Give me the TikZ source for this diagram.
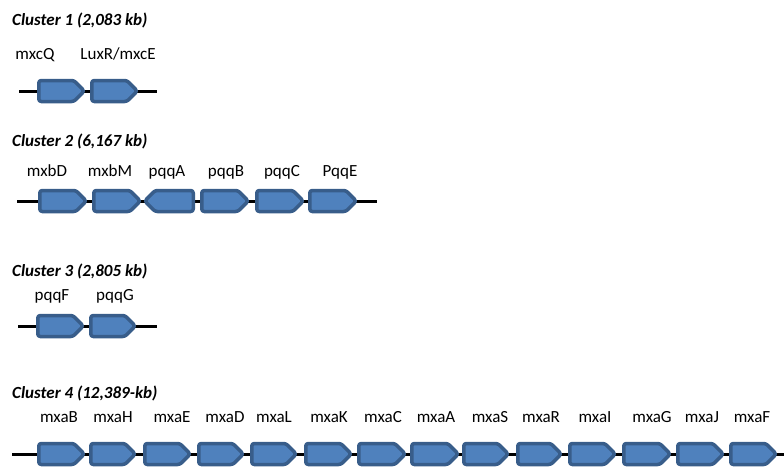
\documentclass[tikz,border=0pt]{standalone}
\usepackage{fontspec}
\setmainfont{Carlito}

\definecolor{genefill}{HTML}{4F81BD}
\definecolor{geneline}{HTML}{385D8A}

\tikzset{
  gene/.style={fill=genefill,draw=geneline,line width=3.5pt,rounded corners=2.5pt,line join=round},
  backbone/.style={line width=3pt},
  genename/.style={font=\fontsize{17}{20}\selectfont,inner sep=0pt,anchor=base},
  cluster/.style={font=\fontsize{17}{20}\selectfont\bfseries\itshape,inner sep=0pt,anchor=base west}
}

% gene arrows: start, end, height of the backbone
\newcommand{\generight}[3]{%
  \draw[gene] (#1+1.75,#3-10.5) -- (#2-12,#3-10.5) -- (#2-1.75,#3) -- (#2-12,#3+10.5) -- (#1+1.75,#3+10.5) -- cycle;}
\newcommand{\geneleft}[3]{%
  \draw[gene] (#2-1.75,#3-10.5) -- (#1+12,#3-10.5) -- (#1+1.75,#3) -- (#1+12,#3+10.5) -- (#2-1.75,#3+10.5) -- cycle;}

\begin{document}
\begin{tikzpicture}[x=1pt,y=-1pt]
\clip (0,0) rectangle (784,466);

% cluster 1
\node[cluster] (c1) at (12,25) {Cluster 1 (2,083 kb)};
\node[genename] (mxcQ) at (35,59) {mxcQ};
\node[genename] (luxR) at (118,59) {LuxR/mxcE};
\draw[backbone] (19,91) -- (157,91);
\generight{37}{86}{91}
\generight{90}{139}{91}

% cluster 2
\node[cluster] (c2) at (12,146) {Cluster 2 (6,167 kb)};
\foreach \c/\n in {47/mxbD,110/mxbM,167/pqqA,226/pqqB,282/pqqC,340/PqqE}
  \node[genename] (\n) at (\c,176) {\n};
\draw[backbone] (17,201) -- (377,201);
\generight{38}{88}{201}
\generight{92}{142}{201}
\geneleft{143}{195}{201}
\generight{200}{250}{201}
\generight{255}{305}{201}
\generight{308}{358}{201}

% cluster 3
\node[cluster] (c3) at (12,276) {Cluster 3 (2,805 kb)};
\node[genename] (pqqF) at (52,300) {pqqF};
\node[genename] (pqqG) at (115,300) {pqqG};
\draw[backbone] (18,326) -- (157,326);
\generight{36}{85}{326}
\generight{89}{137}{326}

% cluster 4
\node[cluster] (c4) at (12,398) {Cluster 4 (12,389-kb)};
\foreach \c/\n in {59/mxaB,113/mxaH,172/mxaE,225/mxaD,274/mxaL,329/mxaK,383/mxaC,
                   436/mxaA,490/mxaS,541/mxaR,595/mxaI,652/mxaG,702/mxaJ,752/mxaF}
  \node[genename] (\n) at (\c,422.5) {\n};
\draw[backbone] (12,454) -- (784,454);
\foreach \a/\b in {37/86,89/137,143/192,197/245,250/298,304/353,357/407,
                   410/460,462/510,516/563,568/617,622/672,676/725,729/778}
  {\generight{\a}{\b}{454}}

\end{tikzpicture}
\end{document}
